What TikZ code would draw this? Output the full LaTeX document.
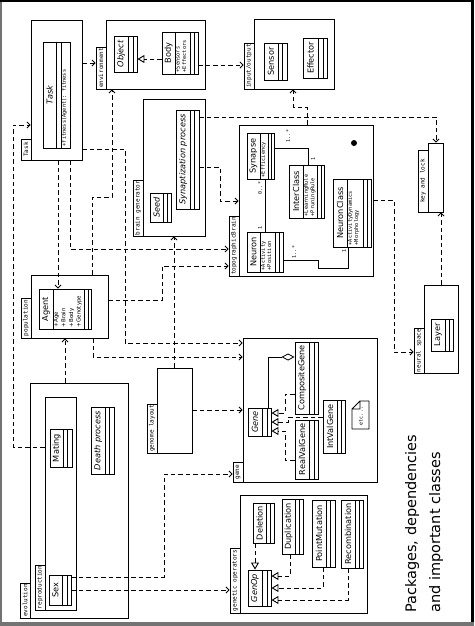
\documentclass[tikz,border=0pt]{standalone}
\usepackage{fontspec}
\setmainfont{DejaVu Sans}
\setmonofont{DejaVu Sans Mono}
\usepackage{tikz}
\usetikzlibrary{arrows.meta, fit}

\tikzset{
  pkgbox/.style={draw, line width=0.9pt, inner sep=0pt},
  clsbox/.style={draw, line width=0.9pt, inner sep=0pt, fill=white},
  clsname/.style={rotate=90, inner sep=0pt, font=\fontsize{8.2}{9}\selectfont},
  attr/.style={rotate=90, anchor=north west, align=left, inner sep=0.6pt,
               font=\ttfamily\fontsize{5.3}{6.4}\selectfont},
  tablabel/.style={rotate=90, inner sep=0pt, font=\ttfamily\fontsize{6}{7}\selectfont},
  mult/.style={rotate=90, inner sep=0pt, font=\ttfamily\fontsize{5}{6}\selectfont},
  dep/.style={line width=0.9pt, dash pattern=on 4.5pt off 3pt,
              -{Straight Barb[length=3pt,width=6pt]}},
  realize/.style={line width=0.9pt, dash pattern=on 4.5pt off 3pt,
                  -{Triangle[open,length=7pt,width=8pt]}},
  assoc/.style={line width=0.8pt},
  titletext/.style={rotate=90, anchor=base west, inner sep=0pt,
                    font=\fontsize{14.5}{17}\selectfont},
}

% class box: name, x1, y1, x2, y2, end of name part, other splits, title
\newcommand{\umlclass}[8]{%
  \node[clsbox, fit={(#2,#3) (#4,#5)}] (#1) {};
  \foreach \s in {#6,#7}
      \draw[line width=0.9pt] (\s,#3) -- (\s,#5);
  \node[clsname] (#1-name) at ({(#2+#6)/2},{(#3+#5)/2}) {#8};
}

% package: name, x1, y1, x2, y2, top of tab, label
\newcommand{\umlpackage}[7]{%
  \node[pkgbox, fit={(#2,#3) (#4,#5)}] (#1) {};
  \node[pkgbox, fit={(#2-10,#6) (#2,#5)}] (#1-tab) {};
  \node[tablabel] (#1-label) at (#1-tab.center) {#7};
}

\begin{document}
\begin{tikzpicture}[x=1pt,y=-1pt]

  \useasboundingbox (0,0) rectangle (474,626);

  % --- frame ------------------------------------------------------
  \fill[black!55] (0,0) rectangle (2,626);
  \fill[black] (0,0) rectangle (474,2.5);
  \fill[black] (471,0) rectangle (474,626);
  \fill[black!55] (0,622) rectangle (474,626);

  % --- packages ---------------------------------------------------
  \umlpackage{taskpkg}{31}{20}{82}{160}{139}{Task}
  \umlpackage{envpkg}{106}{20}{205}{89}{47}{environment}
  \umlpackage{iopkg}{254}{19}{334}{89}{43}{input/output}
  \umlpackage{bgpkg}{143}{99}{205}{236}{180}{brain generator}
  \umlpackage{brainpkg}{239}{125}{373}{276}{216}{topographicBrain}
  \umlpackage{keypkg}{428}{143}{443}{212}{150}{key and lock}
  \umlpackage{neuralpkg}{424}{285}{458}{373}{328}{neural space}
  \umlpackage{poppkg}{31}{275}{108}{338}{298}{population}
  \umlpackage{glpkg}{157}{368}{192}{453}{404}{genome layout}
  \umlpackage{evopkg}{30}{383}{128}{618}{583}{evolution}
  \umlpackage{reprpkg}{45}{397}{76}{610}{565}{reproduction}
  \umlpackage{genepkg}{243}{338}{377}{482}{462}{gene}
  \umlpackage{gopkg}{240}{495}{367}{613}{548}{genetic operators}

  % --- task / environment / io -------------------------------------
  \umlclass{task}{43}{42}{70}{148}{56}{61}{\itshape Task}
  \node[attr] (task-op) at (61,147) {+fitness(Agent): fitness};

  \umlclass{object}{114}{36}{137}{72}{128}{133}{\itshape Object}
  \umlclass{body}{162}{32}{198}{74}{175}{190,194}{Body}
  \node[attr] (body-attr) at (175,73) {+Sensors\\+Effectors};

  \umlclass{sensor}{264}{43}{287}{80}{278}{282}{Sensor}
  \umlclass{effector}{303}{38}{327}{78}{318}{323}{Effector}

  % --- brain --------------------------------------------------------
  \umlclass{seed}{150}{193}{171}{222}{163}{167}{\itshape Seed}
  \umlclass{synproc}{176}{110}{199}{209}{190}{194}{\itshape Synaptization process}

  \umlclass{synapse}{247}{133}{274}{179}{260}{268,271}{Synapse}
  \node[attr] (synapse-attr) at (260,178) {+Efficiency};
  \umlclass{neuron}{247}{232}{283}{272}{260}{275,279}{Neuron}
  \node[attr] (neuron-attr) at (260,271) {+Activity\\+Position};
  \umlclass{interclass}{289}{165}{324}{218}{303}{317,321}{InterClass}
  \node[attr] (interclass-attr) at (303,217) {+LearningRule\\+PruningRule};
  \umlclass{neuronclass}{333}{179}{371}{247}{347}{363,367}{NeuronClass}
  \node[attr] (neuronclass-attr) at (347,246) {+ActivityDynamics\\+Morphology};
  \fill (354,143) circle (3pt);

  \umlclass{layer}{431}{319}{453}{351}{445}{449}{Layer}

  % --- population / evolution --------------------------------------
  \umlclass{agent}{39}{289}{91}{329}{53}{84,88}{Agent}
  \node[attr, font=\fontsize{5.5}{7.6}\selectfont] (agent-attr) at (53,328)
       {+Age\\+Brain\\+Body\\+Genotype};

  \umlclass{mating}{50}{429}{72}{467}{63}{67}{Mating}
  \umlclass{death}{91}{407}{114}{474}{105}{109}{\itshape Death process}
  \umlclass{sex}{49}{575}{71}{605}{62}{67}{Sex}

  % --- gene / genetic operators ------------------------------------
  \umlclass{gene}{248}{408}{271}{436}{262}{267}{\itshape Gene}
  \umlclass{compgene}{295}{342}{318}{414}{309}{314}{CompositeGene}
  \umlclass{realgene}{295}{420}{318}{479}{309}{314}{RealValGene}
  \umlclass{intgene}{323}{400}{345}{453}{337}{341}{IntValGene}

  % note
  \draw[line width=0.8pt] (352,409) -- (352,429) -- (369,429) -- (369,401)
        -- (360,401) -- cycle (360,401) -- (360,409) -- (352,409);
  \node[mult] (etc) at (361,416) {etc...};

  \umlclass{genop}{248}{570}{271}{606}{262}{267}{\itshape GenOp}
  \umlclass{deletion}{253}{503}{274}{543}{266}{270}{Deletion}
  \umlclass{duplication}{282}{499}{303}{554}{295}{299}{Duplication}
  \umlclass{pointmut}{312}{500}{335}{567}{326}{330}{PointMutation}
  \umlclass{recomb}{341}{500}{363}{568}{355}{359}{Recombination}

  % --- associations -------------------------------------------------
  \draw[assoc] (synapse.south -| 265,0) -- (neuron.north -| 265,0);
  \draw[assoc] (synapse.east |- 0,148) -| (interclass.north -| 308,0);
  \draw[assoc] (neuron.east |- 0,260) -| (318,268) -| (neuronclass.south -| 348,0);
  \draw[assoc, -{Diamond[open,length=13pt,width=7pt]}]
        (gene.north -| 268,0) |- (compgene.west |- 0,357);

  \node[mult] (m-syn) at (260,188) {0..*};
  \node[mult] (m-neu) at (260,228) {1};
  \node[mult] (m-syn2) at (288,136) {1..*};
  \node[mult] (m-int) at (313,159) {1};
  \node[mult] (m-neu2) at (294,252) {1..*};
  \node[mult] (m-ncl) at (344,251) {1};

  % --- realizations -------------------------------------------------
  \draw[realize] (body.west |- 0,59) -- (object.east |- 0,59);

  \draw[realize] (compgene.west |- 0,394) -| (285,413) -- (gene.east |- 0,413);
  \draw[realize] (intgene.west |- 0,417) -| (288,422) -- (gene.east |- 0,422);
  \draw[realize] (realgene.west |- 0,460) -| (285,431) -- (gene.east |- 0,431);

  \draw[realize] (deletion.south -| 255,0) -- (genop.north -| 255,0);
  \draw[realize] (duplication.south -| 290,0) |- (genop.east |- 0,576);
  \draw[realize] (pointmut.south -| 323,0) |- (genop.east |- 0,588);
  \draw[realize] (recomb.south -| 348,0) |- (genop.east |- 0,600);

  % --- dependencies -------------------------------------------------
  \draw[dep] (taskpkg.east |- 0,63) -- (envpkg-tab.west |- 0,63);
  \draw[dep] (body.east |- 0,65) -- (iopkg-tab.west |- 0,65);
  \draw[dep] (reprpkg.west |- 0,447) -- (13,447) |- (taskpkg.west |- 0,125);
  \draw[dep] (taskpkg.south -| 58,0) -- (agent.north -| 58,0);
  \draw[dep] (taskpkg.south -| 70,0) |- (brainpkg-tab.west |- 0,249);
  \draw[dep] (taskpkg.east |- 0,149) -| (125,343) -- (genepkg.west |- 0,343);
  \draw[dep] (poppkg.north -| 92,0) |- (112,197) -- (envpkg.south -| 112,0);
  \draw[dep] (poppkg.east |- 0,300) -| (162,266) -- (brainpkg-tab.west |- 0,266);
  \draw[dep] (poppkg.south -| 93,0) |- (genepkg.west |- 0,357);
  \draw[dep] (evopkg.north -| 65,0) -- (poppkg.south -| 65,0);
  \draw[dep] (glpkg.north -| 174,0) -- (bgpkg.south -| 174,0);
  \draw[dep] (glpkg.east |- 0,410) -- (genepkg.west |- 0,410);
  \draw[dep] (sex.east |- 0,577) -| (164,474) -- (genepkg-tab.west |- 0,474);
  \draw[dep] (sex.east |- 0,590) -- (gopkg-tab.west |- 0,590);
  \draw[dep] (synproc.east |- 0,167) -| (220,201) -- (brainpkg.west |- 0,201);
  \draw[dep] (synproc.east |- 0,117) -| (keypkg.north -| 436,0);
  \draw[dep] (brainpkg.north -| 307,0) |- (293,107) -- (iopkg.south -| 293,0);
  \draw[dep] (brainpkg.east |- 0,200) -| (394,352) -- (neuralpkg-tab.west |- 0,352);
  \draw[dep] (neuralpkg.north -| 441,0) -- (keypkg.south -| 441,0);

  % --- title --------------------------------------------------------
  \node[titletext] (title1) at (416,613) {Packages, dependencies};
  \node[titletext] (title2) at (440,613) {and important classes};

\end{tikzpicture}
\end{document}
